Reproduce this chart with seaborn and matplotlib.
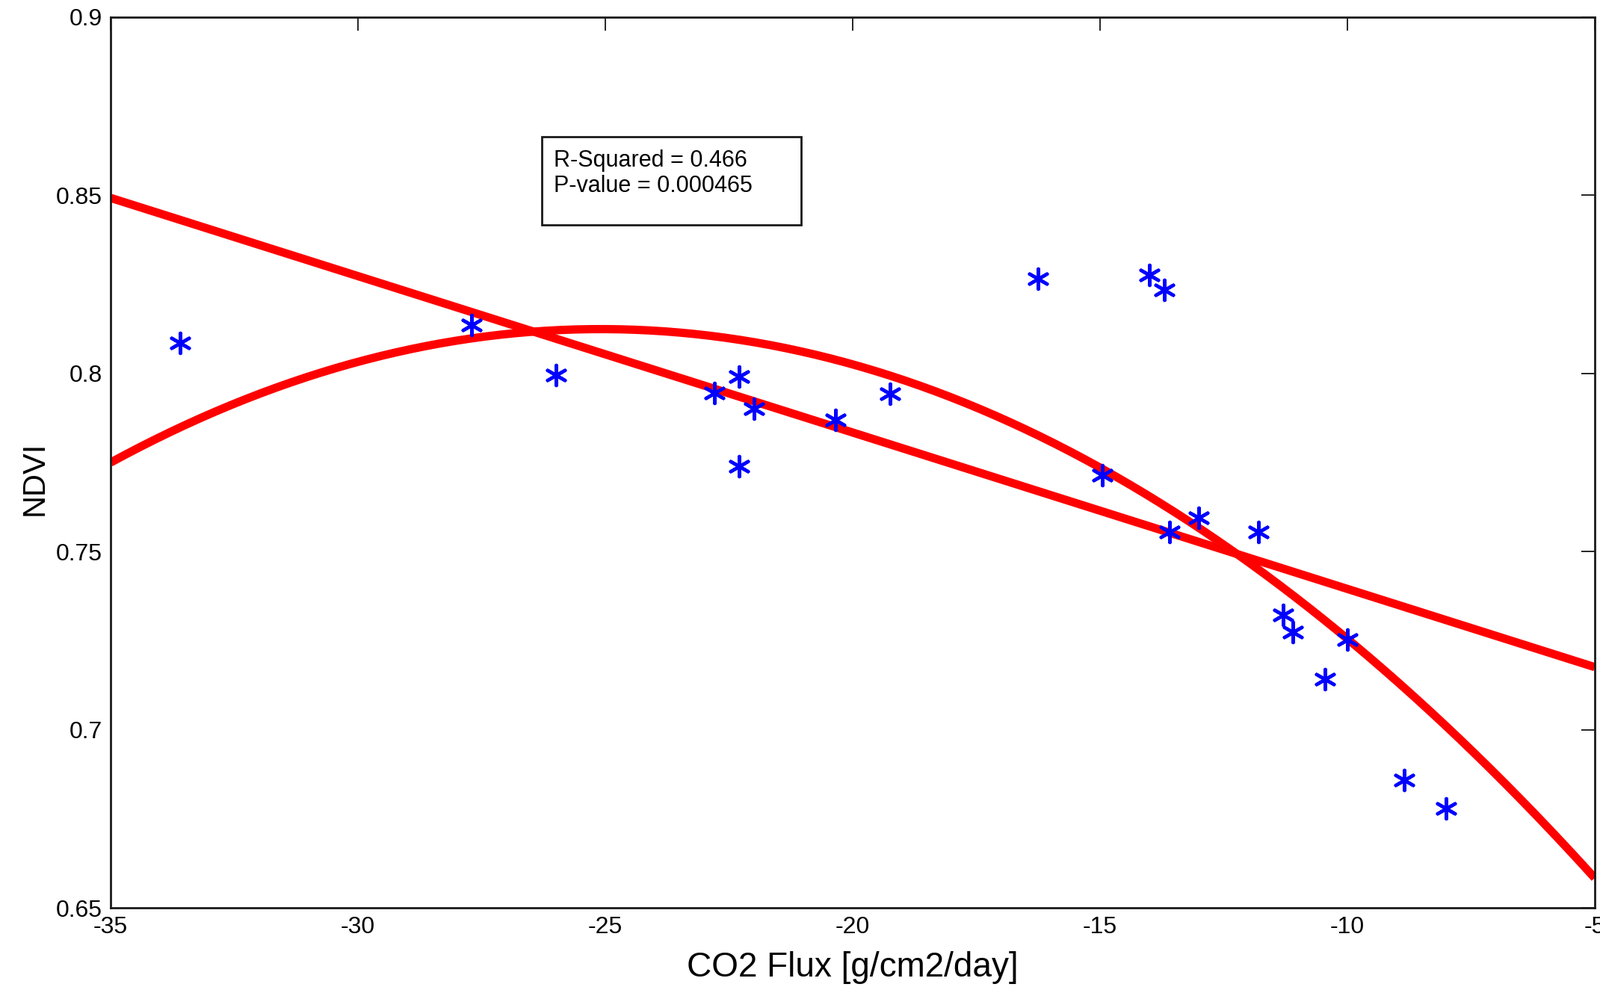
import numpy as np
import pandas as pd
import matplotlib
matplotlib.use("Agg")
import matplotlib.pyplot as plt
from matplotlib.patches import Rectangle
import seaborn as sns

# CO2 flux vs NDVI
co2_flux = [-33.6, -27.7, -26.0, -22.8, -22.3, -22.0, -22.3, -20.35, -19.25,
            -16.25, -14.95, -14.0, -13.7, -13.6, -13.0, -11.8, -11.3, -11.1,
            -10.0, -10.45, -8.85, -8.0]
ndvi = [0.8086, 0.8135, 0.7995, 0.7946, 0.7992, 0.7900, 0.7740, 0.7869, 0.7943,
        0.8267, 0.7714, 0.8276, 0.8235, 0.7554, 0.7594, 0.7554, 0.7322, 0.7273,
        0.7253, 0.7141, 0.6858, 0.6778]

x_ticks = [-35, -30, -25, -20, -15, -10, -5]
x_tick_labels = ["-35", "-30", "-25", "-20", "-15", "-10", "-5"]
y_ticks = [0.65, 0.7, 0.75, 0.8, 0.85, 0.9]
y_tick_labels = ["0.65", "0.7", "0.75", "0.8", "0.85", "0.9"]
stats_lines = ["R-Squared = 0.466", "P-value = 0.000465"]

df = pd.DataFrame({"flux": co2_flux, "ndvi": ndvi})

sns.set_style("white")
plt.rcParams["font.family"] = ["Liberation Sans", "DejaVu Sans"]
plt.rcParams["text.color"] = "black"
plt.rcParams["axes.labelcolor"] = "black"

fig = plt.figure(figsize=(21.41, 13.21), dpi=100)
ax = fig.add_axes([0.0691, 0.0802, 0.9276, 0.9024])
ax.set_xlim(-35, -5)
ax.set_ylim(0.65, 0.9)

# linear and quadratic fits across the full x range
line_style = dict(color="#ff0000", lw=8, solid_capstyle="butt", zorder=2)
sns.regplot(data=df, x="flux", y="ndvi", order=1, ci=None, scatter=False,
            truncate=False, line_kws=line_style, ax=ax)
sns.regplot(data=df, x="flux", y="ndvi", order=2, ci=None, scatter=False,
            truncate=False, line_kws=line_style, ax=ax)

# data points as blue asterisks
sns.scatterplot(data=df, x="flux", y="ndvi", marker=(6, 2, 0), s=380,
                color="#0000ff", edgecolor="#0000ff", linewidth=3.2,
                zorder=3, ax=ax)

ax.set_xlim(-35, -5)
ax.set_ylim(0.65, 0.9)
ax.set_xticks(x_ticks)
ax.set_xticklabels(x_tick_labels)
ax.set_yticks(y_ticks)
ax.set_yticklabels(y_tick_labels)
ax.tick_params(direction="in", top=True, right=True, length=13, width=1.2,
               labelsize=23, pad=8, colors="black")
for side in ["top", "right", "bottom", "left"]:
    ax.spines[side].set_visible(True)
    ax.spines[side].set_linewidth(2)
    ax.spines[side].set_color("#1a1a1a")

ax.set_xlabel("CO2 Flux [g/cm2/day]", fontsize=33, labelpad=12)
ax.set_ylabel("NDVI", fontsize=30)
ax.yaxis.set_label_coords(-0.041, 0.482)

# statistics box
ax.add_patch(Rectangle((0.2905, 0.7668), 0.1748, 0.099, transform=ax.transAxes,
                       fill=False, edgecolor="#1a1a1a", linewidth=2, zorder=4))
ax.text(0.2986, 0.8322, stats_lines[0], transform=ax.transAxes, fontsize=22,
        va="baseline", ha="left", zorder=5)
ax.text(0.2986, 0.8037, stats_lines[1], transform=ax.transAxes, fontsize=22,
        va="baseline", ha="left", zorder=5)

fig.savefig("out.png", dpi=100, facecolor="white")
